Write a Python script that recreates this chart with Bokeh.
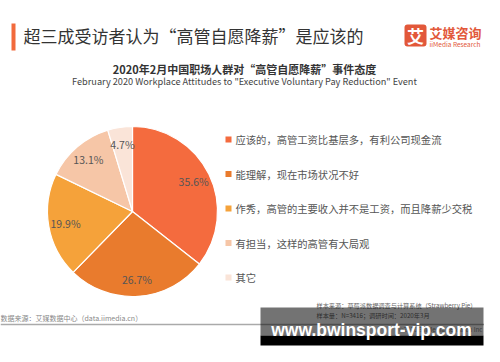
import numpy as np
from bokeh.plotting import figure
from bokeh.models import ColumnDataSource, Range1d
from bokeh.core.properties import value
from bokeh.embed import file_html
from bokeh.resources import INLINE

# ---- data ----
categories = [
    "应该的，高管工资比基层多，有利公司现金流",
    "能理解，现在市场状况不好",
    "作秀，高管的主要收入并不是工资，而且降薪少交税",
    "有担当，这样的高管有大局观",
    "其它",
]
shares = [35.6, 26.7, 19.9, 13.1, 4.7]
share_labels = ["35.6%", "26.7%", "19.9%", "13.1%", "4.7%"]

title_text = "超三成受访者认为“高管自愿降薪”是应该的"
subtitle_cn = "2020年2月中国职场人群对“高管自愿降薪”事件态度"
subtitle_en = 'February 2020 Workplace Attitudes to "Executive Voluntary Pay Reduction" Event'
source_text = "数据来源：艾媒数据中心（data.iimedia.cn）"
sample_src = "样本来源：草莓派数据调查与计算系统（Strawberry  Pie）"
sample_size = "样本量：N=3416；调研时间：2020年3月"

palette = ["#F46B3E", "#E97B2D", "#F5A23A", "#F6C6A7", "#FAE4D8"]

FONT = value("Noto Sans CJK SC")
W, H = 484, 346

p = figure(width=W, height=H, output_backend="svg", toolbar_location=None,
           x_range=Range1d(0, W), y_range=Range1d(0, H), min_border=0)
p.axis.visible = False
p.grid.visible = False
p.outline_line_color = None
p.background_fill_color = "white"
p.border_fill_color = "white"

# ---- pie ----
cx, cy, R = 132, 135, 85
vals = np.array(shares)
frac = vals / vals.sum()
cum = np.concatenate([[0], np.cumsum(frac)])
start = np.pi / 2 - 2 * np.pi * cum[:-1]
end = np.pi / 2 - 2 * np.pi * cum[1:]
mid = (start + end) / 2
src = ColumnDataSource(dict(start=start, end=end, color=palette,
                            lx=cx + 0.8 * R * np.cos(mid),
                            ly=cy + 0.8 * R * np.sin(mid),
                            lab=share_labels))
p.wedge(x=cx, y=cy, radius=R, start_angle="start", end_angle="end",
        direction="clock", fill_color="color", line_color="white",
        line_width=1.2, source=src)
p.text(x="lx", y="ly", text="lab", source=src, text_font=FONT,
       text_font_size="10.5px", text_color="#555555", text_align="center",
       text_baseline="middle")

# ---- legend ----
ly = [207 - 34.5 * i for i in range(len(categories))]
lsrc = ColumnDataSource(dict(x=[228] * len(categories), y=ly, color=palette,
                             tx=[235] * len(categories), t=categories))
p.rect(x="x", y="y", width=6, height=6, fill_color="color", line_color=None,
       source=lsrc)
p.text(x="tx", y="y", text="t", source=lsrc, text_font=FONT,
       text_font_size="10.3px", text_color="#555555", text_baseline="middle")

# ---- title ----
p.quad(left=[11], right=[15], bottom=[296], top=[323], fill_color="#F26A3C",
       line_color=None)
p.text(x=[23], y=[311], text=[title_text], text_font=FONT,
       text_font_size="17px", text_color="#333333", text_baseline="middle")

# logo
p.quad(left=[404], right=[426], bottom=[300], top=[322], fill_color="#E2583A",
       line_color=None, border_radius=3)
p.text(x=[415], y=[311], text=["艾"], text_font=FONT, text_font_size="17px",
       text_font_style="bold", text_color="white", text_align="center",
       text_baseline="middle")
p.text(x=[429], y=[314], text=["艾媒咨询"], text_font=FONT,
       text_font_size="13px", text_font_style="bold", text_color="#E2583A",
       text_baseline="middle")
p.text(x=[429], y=[303], text=["iiMedia Research"], text_font=FONT,
       text_font_size="6.5px", text_color="#E2583A", text_baseline="middle")

# subtitles
p.text(x=[244], y=[278], text=[subtitle_cn], text_font=FONT,
       text_font_size="11px", text_font_style="bold", text_color="#333333",
       text_align="center", text_baseline="middle")
p.text(x=[244], y=[266], text=[subtitle_en], text_font=FONT,
       text_font_size="9.2px", text_color="#444444", text_align="center",
       text_baseline="middle")

# ---- footer ----
p.text(x=[0], y=[29], text=[source_text], text_font=FONT,
       text_font_size="7px", text_color="#888888", text_baseline="middle")
p.segment(x0=[0], y0=[22], x1=[W], y1=[22], line_color="#AAAAAA",
          line_width=1.5)
p.text(x=[316], y=[41], text=[sample_src], text_font=FONT,
       text_font_size="6.2px", text_color="#666666", text_baseline="middle")
p.text(x=[316], y=[31], text=[sample_size], text_font=FONT,
       text_font_size="6.2px", text_color="#666666", text_baseline="middle")
p.text(x=[482], y=[17], text=["©2020.3 iiMedia Research Inc"], text_font=FONT,
       text_font_size="6.2px", text_color="#888888", text_align="right",
       text_baseline="middle")

# overlay band
p.quad(left=[260], right=[483], bottom=[11], top=[39], fill_color="#000000",
       fill_alpha=0.55, line_color=None)
p.quad(left=[260], right=[483], bottom=[1], top=[11], fill_color="#000000",
       line_color=None)
p.text(x=[371], y=[17], text=["www.bwinsport-vip.com"],
       text_font=value("Liberation Sans"), text_font_size="17.5px",
       text_font_style="bold", text_color="white", text_align="center",
       text_baseline="middle")

open("out.html", "w").write(file_html(p, INLINE))
